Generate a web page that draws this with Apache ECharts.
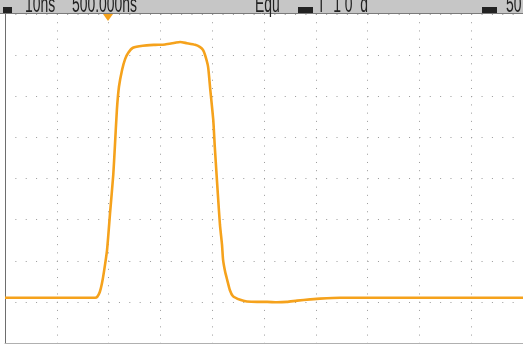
<!DOCTYPE html>
<html><head><meta charset="utf-8">
<script src="https://cdn.jsdelivr.net/npm/echarts@6/dist/echarts.min.js"></script>
<style>html,body{margin:0;padding:0;background:#fff;overflow:hidden}#c{width:523px;height:344px}</style>
</head><body><div id="c"></div>
<script>
// Time in horizontal divisions (0..10), voltage in vertical divisions (0..8)
const timeDiv = [0, 1.06, 1.74, 1.78, 1.83, 1.87, 1.91, 1.97, 2.03, 2.09, 2.12, 2.16, 2.20, 2.26, 2.32, 2.38, 2.47, 2.66, 2.90, 3.09, 3.28, 3.38, 3.51, 3.67, 3.76, 3.82, 3.86, 3.92, 3.96, 4.02, 4.05, 4.11, 4.15, 4.19, 4.21, 4.25, 4.29, 4.34, 4.40, 4.54, 4.67, 4.87, 5.06, 5.25, 5.44, 5.64, 5.89, 6.08, 6.47, 7.24, 8.01, 8.98, 10];
const voltDiv = [1.10, 1.10, 1.10, 1.12, 1.24, 1.44, 1.73, 2.26, 3.19, 4.09, 4.75, 5.67, 6.23, 6.64, 6.91, 7.06, 7.18, 7.23, 7.25, 7.26, 7.30, 7.32, 7.29, 7.25, 7.20, 7.13, 7.01, 6.72, 6.20, 5.43, 4.77, 3.60, 2.87, 2.38, 2.02, 1.73, 1.53, 1.29, 1.14, 1.05, 1.01, 1.00, 1.00, 0.99, 1.00, 1.03, 1.06, 1.08, 1.10, 1.10, 1.10, 1.10, 1.10];
const headerLeft = ['10ns', '500.000ns'];
const headerMid = ['Equ', 'T  1 0  d'];
const headerRight = ['50'];

const chart = echarts.init(document.getElementById('c'), null, {renderer: 'canvas'});
const pts = timeDiv.map((t, i) => [t, voltDiv[i]]);
const hdrFont = {fontSize: 24, fontFamily: 'Liberation Sans', fill: '#222', verticalAlign: 'bottom', align: 'left'};
function hdrText(x, t) {
  return {type: 'text', x: x, y: 17.5, scaleX: 0.58, style: Object.assign({text: t}, hdrFont), z: 101};
}
chart.setOption({
  animation: false,
  backgroundColor: '#ffffff',
  grid: {left: 5, top: 14, width: 518, height: 329},
  xAxis: {type: 'value', min: 0, max: 10, interval: 1,
    axisLine: {show: true, onZero: false, lineStyle: {color: '#b0b0b0', width: 1}},
    axisTick: {show: false}, axisLabel: {show: false},
    splitLine: {show: true, lineStyle: {color: '#9a9a9a', width: 1, type: [1, 7.22]}}},
  yAxis: {type: 'value', min: 0, max: 8, interval: 1,
    axisLine: {show: true, lineStyle: {color: '#6e6e6e', width: 1}},
    axisTick: {show: false}, axisLabel: {show: false},
    splitLine: {show: true, lineStyle: {color: '#9a9a9a', width: 1, type: [1, 9.36]}}},
  series: [{type: 'line', data: pts, showSymbol: false, smooth: 0.2,
    lineStyle: {color: '#F5A21C', width: 2.6}}],
  graphic: [
    {type: 'rect', shape: {x: 0, y: 0, width: 523, height: 13}, style: {fill: '#c6c6c6'}, z: 100},
    {type: 'line', shape: {x1: 0, y1: 13.5, x2: 523, y2: 13.5}, style: {stroke: '#7a7a7a', lineWidth: 1}, z: 100},
    {type: 'rect', shape: {x: 3, y: 7, width: 9, height: 6}, style: {fill: '#222'}, z: 101},
    hdrText(25, headerLeft[0]),
    hdrText(72, headerLeft[1]),
    hdrText(255, headerMid[0]),
    {type: 'rect', shape: {x: 298, y: 7, width: 15, height: 6}, style: {fill: '#222'}, z: 101},
    hdrText(317, headerMid[1]),
    {type: 'rect', shape: {x: 482, y: 7, width: 15, height: 6}, style: {fill: '#222'}, z: 101},
    hdrText(506, headerRight[0]),
    {type: 'polygon', shape: {points: [[103, 14], [113, 14], [108, 21]]}, style: {fill: '#F5A21C'}, z: 102}
  ]
});
</script></body></html>
